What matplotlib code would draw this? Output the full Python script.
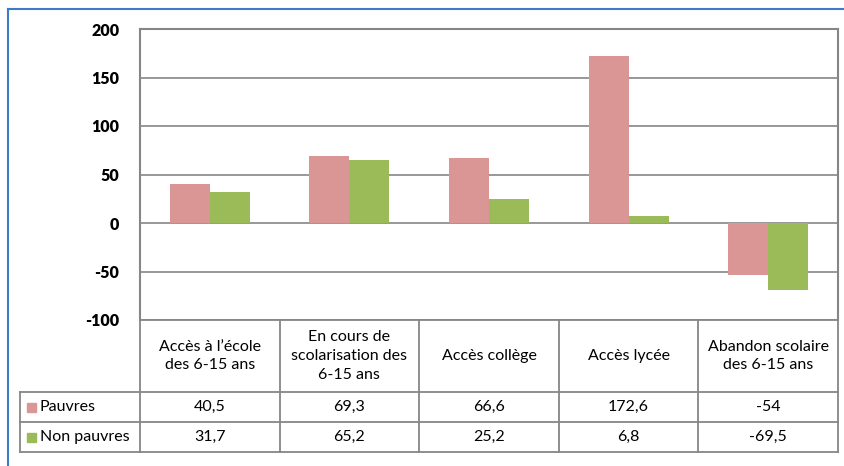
import numpy as np
import matplotlib.pyplot as plt
from matplotlib.lines import Line2D
from matplotlib.patches import Rectangle

categories = ["Accès à l\u2019école\ndes 6-15 ans",
              "En cours de\nscolarisation des\n6-15 ans",
              "Accès collège",
              "Accès lycée",
              "Abandon scolaire\ndes 6-15 ans"]
pauvres = [40.5, 69.3, 66.6, 172.6, -54]
non_pauvres = [31.7, 65.2, 25.2, 6.8, -69.5]
series_names = ["Pauvres", "Non pauvres"]
y_ticks = [-100, -50, 0, 50, 100, 150, 200]

PINK = "#D99694"
GREEN = "#9BBB59"
GRID = "#868686"
FONT = ["Lato", "DejaVu Sans"]

W, H = 845, 466
fig = plt.figure(figsize=(W / 100, H / 100), dpi=100)


def fx(px):
    return px / W


def fy(py):
    return 1 - py / H


left, right, top, bottom = 140, 838, 29, 320
ax = fig.add_axes([fx(left), fy(bottom), fx(right - left), fy(top) - fy(bottom)])

n = len(categories)
x = np.arange(n) + 0.5
bw = 40 / ((right - left) / n)
ax.bar(x - bw / 2, pauvres, bw, color=PINK, zorder=3)
ax.bar(x + bw / 2, non_pauvres, bw, color=GREEN, zorder=3)

ax.set_xlim(0, n)
ax.set_ylim(-100, 200)
ax.set_yticks(y_ticks)
ax.set_yticklabels([str(t) for t in y_ticks], fontweight="heavy", fontsize=11.5, family=FONT)
ax.set_xticks([])
ax.tick_params(axis="y", length=0, pad=15)
ax.grid(axis="y", color=GRID, linewidth=1.2, zorder=0)
for s in ["left", "right", "top"]:
    ax.spines[s].set_color(GRID)
    ax.spines[s].set_linewidth(1.5)
ax.spines["bottom"].set_visible(False)

# table under the plot
col_w = (right - left) / n
row_y = [320, 392, 422, 452]
line_kw = dict(color=GRID, linewidth=1.3, transform=fig.transFigure)

fig.add_artist(Line2D([fx(left), fx(right)], [fy(320), fy(320)], **line_kw))
for yy in row_y[1:]:
    fig.add_artist(Line2D([fx(20), fx(right)], [fy(yy), fy(yy)], **line_kw))
fig.add_artist(Line2D([fx(20), fx(20)], [fy(392), fy(452)], **line_kw))
for i in range(n + 1):
    xx = left + i * col_w
    fig.add_artist(Line2D([fx(xx), fx(xx)], [fy(320), fy(452)], **line_kw))

txt_kw = dict(fontsize=11.5, family=FONT, ha="center", va="center", color="black")
for i, cat in enumerate(categories):
    cx = left + (i + 0.5) * col_w
    fig.text(fx(cx), fy(356), cat, linespacing=1.45, **txt_kw)
    fig.text(fx(cx), fy(407), f"{pauvres[i]:g}".replace(".", ","), **txt_kw)
    fig.text(fx(cx), fy(437), f"{non_pauvres[i]:g}".replace(".", ","), **txt_kw)

for name, color, yy in zip(series_names, [PINK, GREEN], [407, 437]):
    fig.add_artist(Rectangle((fx(27), fy(yy + 5)), fx(9), fy(yy - 4) - fy(yy + 5),
                             color=color, transform=fig.transFigure))
    fig.text(fx(40), fy(yy), name, fontsize=11.5, family=FONT, ha="left", va="center",
             color="black")

# blue frame
blue = "#3F7BC5"
fig.add_artist(Line2D([fx(8.5), fx(W)], [fy(8.5), fy(8.5)], color=blue, linewidth=1.5,
                      transform=fig.transFigure))
fig.add_artist(Line2D([fx(8.5), fx(8.5)], [fy(8.5), fy(H)], color=blue, linewidth=1.5,
                      transform=fig.transFigure))

fig.savefig("out.png", dpi=100)
